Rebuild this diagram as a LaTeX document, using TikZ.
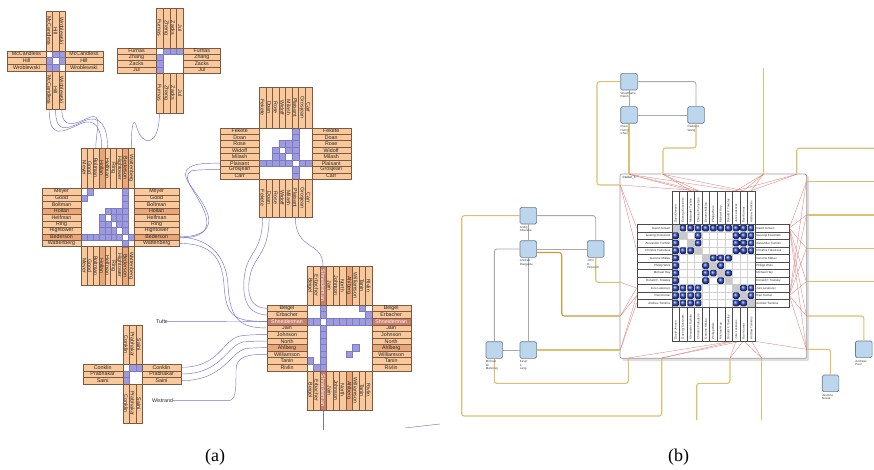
\documentclass[tikz,border=0pt]{standalone}
\usepackage{fontspec}
\setmainfont{Liberation Sans}
\newfontfamily\capfont{Liberation Serif}
\usetikzlibrary{calc}
\definecolor{peach}{HTML}{F9C99B}
\definecolor{peachdk}{HTML}{EBA678}
\definecolor{armline}{HTML}{7A5A44}
\definecolor{cellblue}{HTML}{9D9BDB}
\definecolor{cellbd}{HTML}{7C7AC4}
\definecolor{cConn}{HTML}{7474CF}
\definecolor{hlred}{HTML}{C8806A}
\definecolor{goldl}{HTML}{DCC070}
\definecolor{goldd}{HTML}{C99A38}
\definecolor{cGedge}{HTML}{A9A9A9}
\definecolor{nodefill}{HTML}{BCD6EE}
\definecolor{nodebd}{HTML}{6C7C8E}
\definecolor{redl}{HTML}{E07070}
\definecolor{ballblue}{HTML}{3550CC}
\definecolor{diaggray}{HTML}{C9C9C9}
\newcommand\armfont{\fontsize{5.3}{5.5}\selectfont}
\newcommand\tinyb{\fontsize{3}{3.4}\selectfont}
\tikzset{
 armbox/.style={draw=armline, line width=0.3pt},
 armtxt/.style={font=\armfont, inner sep=0pt, text=black!85},
 bcell/.style={fill=cellblue, draw=cellbd, line width=0.2pt},
 conn/.style={draw=cConn, line width=0.45pt},
 gline/.style={draw=goldl, line width=1.1pt, rounded corners=2.5pt},
 gline2/.style={draw=goldd, line width=1.1pt, rounded corners=2.5pt},
 gedge/.style={draw=cGedge, line width=0.9pt, rounded corners=2.5pt},
 anode/.style={draw=nodebd, fill=nodefill, minimum width=16.6pt, minimum height=16.6pt, inner sep=0pt, rounded corners=1.5pt, line width=0.6pt},
 alabel/.style={font=\tinyb, align=left, inner sep=0pt, anchor=north west, text=black!75},
 rl/.style={draw=redl, line width=0.3pt},
 blab/.style={draw=black!70, line width=0.35pt, fill=white},
 btxt/.style={font=\tinyb, inner sep=0pt, text=black!80},
}
\newcommand\crossgeom[9]{\def\MX{#1}\def\MY{#2}\def\NN{#3}\def\CW{#4}\def\CH{#5}\def\LW{#6}\def\TH{#7}\def\RW{#8}\def\BH{#9}%
  \pgfmathsetmacro\MW{#3*#4}\pgfmathsetmacro\MH{#3*#5}}
\newcommand\armcell[2]{%
  \pgfmathsetmacro\ya{\MY+(#1-1)*\CH}\pgfmathsetmacro\xa{\MX+(#1-1)*\CW}%
  \fill[#2] (\MX-\LW,\ya) rectangle ++(\LW,\CH);
  \fill[#2] (\MX+\MW,\ya) rectangle ++(\RW,\CH);
  \fill[#2] (\xa,\MY-\TH) rectangle ++(\CW,\TH);
  \fill[#2] (\xa,\MY+\MH) rectangle ++(\CW,\BH);}
\newcommand\armlabel[3]{%
  \pgfmathsetmacro\ya{\MY+(#1-1)*\CH}\pgfmathsetmacro\xa{\MX+(#1-1)*\CW}%
  \draw[armbox] (\MX-\LW,\ya) rectangle ++(\LW,\CH);
  \draw[armbox] (\MX+\MW,\ya) rectangle ++(\RW,\CH);
  \draw[armbox] (\xa,\MY-\TH) rectangle ++(\CW,\TH);
  \draw[armbox] (\xa,\MY+\MH) rectangle ++(\CW,\BH);
  \node[armtxt,text=#3] at (\MX-\LW/2,\ya+\CH/2) {#2};
  \node[armtxt,text=#3] at (\MX+\MW+\RW/2,\ya+\CH/2) {#2};
  \node[armtxt,text=#3,rotate=-90] at (\xa+\CW/2,\MY-\TH/2) {#2};
  \node[armtxt,text=#3,rotate=-90] at (\xa+\CW/2,\MY+\MH+\BH/2) {#2};}
\newcommand\drawcross[3]{%
  \foreach \k in {1,...,\NN} {\armcell{\k}{peach}}
  \foreach \k in {#3} {\ifnum\k>0 \armcell{\k}{peachdk}\fi}
  \fill[white] (\MX,\MY) rectangle ++(\MW,\MH);
  \foreach \rr/\cc in {#2} {\fill[bcell] (\MX+\cc*\CW-\CW,\MY+\rr*\CH-\CH) rectangle ++(\CW,\CH);}
  \draw[black!35, line width=0.3pt] (\MX,\MY) rectangle ++(\MW,\MH);
  \foreach \lab [count=\i] in {#1} {\armlabel{\i}{\lab}{black!85}}
}
\begin{document}
\begin{tikzpicture}[x=1pt,y=-1pt]
\useasboundingbox (0,0) rectangle (874,470);
\fill[white] (0,0) rectangle (874,470);

% ---------------- panel (a): connectors ----------------
\node[armtxt] (tufte) at (162,321.7) {Tufte};
\node[armtxt] (wist) at (162.5,400.7) {Wistrand};
\draw[conn] (49.2,109) .. controls (49.2,140) and (62,132) .. (80,124) .. controls (95,117) and (101.7,128) .. (101.7,148);
\draw[conn] (55.5,109) .. controls (55.5,136) and (68,128) .. (84,121) .. controls (100,114) and (107.6,126) .. (107.6,148);
\draw[conn] (61.8,109) .. controls (61.8,130) and (75,124) .. (88,118) .. controls (104,111) and (95.8,130) .. (95.8,148);
\draw[conn] (159.4,113) .. controls (159.4,148) and (142,146) .. (137,128) .. controls (134,117) and (131.3,122) .. (131.3,148);
\draw[conn] (179,236.9) .. controls (200,236.9) and (214,230) .. (207,212) .. controls (198,190) and (176,176) .. (190,167) .. controls (196,163.2) and (208,163.2) .. (220,163.2);
\draw[conn] (179,237.9) .. controls (202,237.9) and (211,231) .. (205,213) .. controls (197,192) and (180,178) .. (191,171) .. controls (197,169.6) and (208,169.6) .. (220,169.6);
\draw[conn] (179,243.4) .. controls (205,243.4) and (222,252) .. (224,285) .. controls (226,318) and (235,321.4) .. (267.3,321.4);
\draw[conn] (179,236.9) .. controls (208,238) and (226,254) .. (228,285) .. controls (230,320) and (240,328) .. (267.3,328);
\draw[conn] (tufte.east) -- (267.3,321.4);
\draw[conn] (181.1,367.3) .. controls (220,367.3) and (222,340) .. (240,336) .. controls (250,334.6) and (258,334.6) .. (267.3,334.6);
\draw[conn] (181.1,374) .. controls (222,374) and (226,346) .. (243,342) .. controls (252,341.1) and (259,341.1) .. (267.3,341.1);
\draw[conn] (181.1,380.7) .. controls (224,380.7) and (230,352) .. (246,348.5) .. controls (254,347.7) and (260,347.7) .. (267.3,347.7);
\draw[conn] (wist.east) -- (228,400.7) .. controls (236,400.7) and (236,390) .. (236,370) .. controls (236,356) and (248,354.3) .. (267.3,354.3);
\draw[conn] (262.6,216.7) .. controls (262.6,255) and (246,250) .. (244,280) .. controls (242,305) and (252,314.9) .. (267.3,314.9);
\draw[conn] (269.1,216.7) .. controls (269.1,258) and (252,254) .. (249,282) .. controls (247,302) and (256,308.3) .. (267.3,308.3);
\draw[conn] (295.3,216.7) .. controls (295.3,252) and (323,240) .. (323,266);
\draw[conn] (323,410) -- (323,430);
\coordinate (s1) at (405,428); \coordinate (s2) at (440,424);
\draw[conn] (s1) -- (s2);

% ---------------- panel (a): matrices ----------------
\crossgeom{46}{50.7}{3}{6.33}{6.67}{39}{39.7}{38}{38.3}
\drawcross{McCandless,Hill,Wroblewski}{1/2,1/3,2/1,2/3,3/1,3/2}{0}
\crossgeom{156}{48}{4}{6.83}{6.25}{39}{40}{37}{40}
\drawcross{Furnas,Zhang,Zacks,Jul}{1/2,1/3,1/4,2/1,3/1,4/1}{0}
\crossgeom{81}{188.3}{9}{5.92}{6.48}{39}{40.3}{44.7}{38.3}
\drawcross{Meyer,Good,Boltman,Hollan,Helfman,Ring,Hightower,Bederson,Wattenberg}
 {1/2,2/1,4/5,5/4,4/6,6/4,4/7,7/4,5/6,6/5,5/7,7/5,6/7,7/6,8/1,8/2,8/3,8/4,8/5,8/6,8/7,8/9,1/8,2/8,3/8,4/8,5/8,6/8,7/8,9/8}{4,8}
\crossgeom{259.3}{127.7}{8}{6.55}{6.45}{39.3}{40.4}{39}{37.4}
\drawcross{Fekete,Doan,Rose,Widoff,Milash,Plaisant,Grosjean,Carr}
 {6/1,6/2,6/3,6/4,6/5,6/7,6/8,1/6,2/6,3/6,4/6,5/6,7/6,8/6,3/4,4/3,3/5,5/3,4/5,5/4}{0}
\crossgeom{306.7}{305}{10}{6.5}{6.57}{39.4}{39}{39}{39.3}
\drawcross{Beigel,Erbacher,Shneiderman,Jain,Johnson,North,Ahlberg,Williamson,Tanin,Rivlin}
 {3/1,3/2,3/4,3/5,3/6,3/7,3/8,3/9,3/10,1/3,2/3,4/3,5/3,6/3,7/3,8/3,9/3,10/3,1/9,9/1,2/10,10/2,7/8,8/7}{7}
\armcell{3}{hlred}
\armlabel{3}{Shneiderman}{white}
\crossgeom{122.7}{364}{3}{6.53}{6.67}{40}{39}{38.4}{39}
\drawcross{Conklin,Prabhakar,Saini}{1/2,2/1,1/3,3/1}{0}

% ---------------- panel (b) ----------------
\node[anode] (W) at (629,81.7) {};
\node[anode] (C) at (629,115) {};
\node[anode] (G) at (696,115) {};
\node[anode] (A) at (528.3,215.7) {};
\node[anode] (D) at (528.3,249) {};
\node[anode] (H) at (595.7,249) {};
\node[anode] (M) at (494.3,350) {};
\node[anode] (L) at (528.3,350) {};
\node[anode] (P) at (863.8,349.3) {};
\node[anode] (J) at (830.5,383.3) {};
\fill[black!13, rounded corners=2pt] (622,176) rectangle (809.2,361);
\node[draw=black!40, fill=white, rounded corners=2pt, minimum width=186.7pt, minimum height=184.3pt, inner sep=0pt, line width=0.7pt] (box) at (713.35,266.15) {};
\node[font=\tinyb, anchor=north west, inner sep=0pt] (cl) at (622.5,176.5) {Cluster\_3};

% gray edges
\draw[gedge] (W.south) -- (C.north);
\draw[gedge] (W.east) -| (G.north);
\draw[gedge] (C.east) -- (G.west);
\draw[gedge] (A.east) -| (H.north);
\draw[gedge] (A.south) -- (D.north);
\draw[gedge] (D.west) -| (M.north);
\draw[gedge] (D.east) -- (H.west);
\draw[gedge] (D.south) -- (L.north);
\draw[gedge] (M.east) -- (L.west);
% gold edges
\coordinate (wl) at (597,185);
\draw[gline] (W.west) -| (wl) -- (wl -| box.west);
\draw[gline] (C.south) -- (C.south |- box.north);
\coordinate (g1) at (663,148);
\draw[gline] (G.south) |- (g1) -- (g1 |- box.north);
\coordinate (a1) at (461.7,416); \coordinate (a2) at (661.7,416);
\draw[gline] (A.west) -| (a1) -- (a2) -- (a2 |- box.south);
\coordinate (m1) at (628.3,383.3);
\draw[gline] (M.south) |- (m1) -- (m1 |- box.south);
\draw[gline] (L.east) -- (L.east -| box.west);
\coordinate (d1) at (561.7,316);
\draw[gline2] ([yshift=-3.5pt]D.east) -| (d1) -- (d1 -| box.west);
\coordinate (h1) at (620,282.3);
\draw[gline] (H.south) |- (h1);
\coordinate (t1) at (763.3,68);
\draw[gline] (t1) -- (t1 |- box.north);
\coordinate (t2a) at (796.7,148.3); \coordinate (t2) at (874,148.3);
\draw[gline] (t2a |- box.north) -- (t2a) -- (t2);
\foreach \yy [count=\i] in {181.7,215,248.3,281.7} {\coordinate (re\i) at (874,\yy); \draw[gline] (box.east |- re\i) -- (re\i);}
\coordinate (p1) at (863.8,316);
\draw[gline] (box.east |- p1) -| (P.north);
\coordinate (j1) at (830,349.3);
\draw[gline] (box.east |- j1) -| (J.north);
\coordinate (b0) at (730,383.3); \coordinate (b2) at (696.7,420);
\draw[gline] (b0 |- box.south) -- (b0) -| (b2);
\coordinate (b3) at (761.7,420);
\draw[gline] (b3 |- box.south) -- (b3);

% node labels
\node[alabel] at ([yshift=-1.8pt]W.south west) {Woodhams\\Rareh};
\node[alabel] at ([yshift=-1.8pt]C.south west) {Duen\\Horng\\Chau};
\node[alabel] at ([yshift=-1.8pt]G.south west) {Radcust\\Wang};
\node[alabel] at ([yshift=-1.8pt]A.south west) {Andig\\Altavana};
\node[alabel] at ([yshift=-1.8pt]D.south west) {Anirban\\Dasgupta};
\node[alabel] at ([yshift=-1.8pt]H.south west) {John\\E.\\Hopcroft};
\node[alabel] at ([yshift=-1.8pt]M.south west) {Michael\\W.\\Mahoney};
\node[alabel] at ([yshift=-1.8pt]L.south west) {Kevin\\J.\\Lang};
\node[alabel] at ([yshift=-1.8pt]P.south west) {Andreas\\Paul};
\node[alabel] at ([yshift=-1.8pt]J.south west) {Jasmine\\Novak};

% red lines inside cluster
\draw[rl] (629,174.3) -- (690.6,190.7); \draw[rl] (629,174.3) -- (698.2,190.7);
\draw[rl] (663,174.3) -- (690.6,190.7); \draw[rl] (663,174.3) -- (698.2,190.7);
\draw[rl] (629,174.3) -- (736.1,190.7); \draw[rl] (663,174.3) -- (743.6,190.7);
\draw[rl] (763.3,174.3) -- (736.1,190.7); \draw[rl] (763.3,174.3) -- (743.6,190.7); \draw[rl] (763.3,174.3) -- (751.2,190.7);
\draw[rl] (796.7,174.3) -- (736.1,190.7); \draw[rl] (796.7,174.3) -- (751.2,190.7);
\draw[rl] (620.3,185) -- (698.2,190.7); \draw[rl] (620.3,185) -- (636.7,250.6); \draw[rl] (620.3,185) -- (636.7,228);
\draw[rl] (620.3,282.3) -- (636.7,288); \draw[rl] (620.3,316) -- (636.7,288);
\draw[rl] (620.3,316) -- (636.7,295.5); \draw[rl] (620.3,350) -- (636.7,295.5); \draw[rl] (620.3,350) -- (636.7,303);
\foreach \yy in {181.7,215,248.3,281.7,316,349.3} {\draw[rl] (806.4,\yy) -- (789.3,228); \draw[rl] (806.4,\yy) -- (789.3,295.5);}
\draw[rl] (628.3,358) -- (736.1,340.7); \draw[rl] (661.7,358) -- (736.1,340.7); \draw[rl] (661.7,358) -- (743.6,340.7);
\draw[rl] (730,358) -- (743.6,340.7); \draw[rl] (730,358) -- (736.1,340.7);
\draw[rl] (761.7,358) -- (743.6,340.7); \draw[rl] (761.7,358) -- (751.2,340.7); \draw[rl] (806.4,349.3) -- (751.2,340.7);

% matrix (b)
\fill[white] (671.7,224.3) rectangle (755,306.8);
\foreach \i in {1,...,10} {\draw[black!18, line width=0.25pt] (671.7+\i*7.57,224.3) -- ++(0,82.5); \draw[black!18, line width=0.25pt] (671.7,224.3+\i*7.5) -- ++(83.3,0);}
\foreach \i in {1,...,11} {\fill[diaggray] (671.7+\i*7.57-7.57,224.3+\i*7.5-7.5) rectangle ++(7.57,7.5);}
\foreach \rr/\cc in {1/2,1/3,1/4,1/5,1/6,1/7,1/8,1/9,1/10,1/11,2/4,3/4,2/9,2/10,2/11,3/9,3/10,3/11,4/9,4/10,4/11,5/6,5/7,5/8,6/7,7/8,9/10,9/11,10/11} {
  \shade[ball color=ballblue, rounded corners=1.3pt] (671.7+\cc*7.57-7.07,224.3+\rr*7.5-7) rectangle ++(6.57,6.5);
  \shade[ball color=ballblue, rounded corners=1.3pt] (671.7+\rr*7.57-7.07,224.3+\cc*7.5-7) rectangle ++(6.57,6.5);
}
\draw[black!50, line width=0.3pt] (671.7,224.3) rectangle (755,306.8);
\foreach \lab [count=\i] in {David Jensen,Gueorgi Kossinets,Alexander Tuzhilin,Christos Faloutsos,Gerome Miklau,Philipp Weis,Michael Hay,Donald F. Towsley,Jure Leskovec,Ravi Kumar,Andrew Tomkins} {
  \pgfmathsetmacro\yy{224.3+(\i-1)*7.5}
  \pgfmathsetmacro\xx{671.7+(\i-1)*7.57}
  \draw[blab] (636.7,\yy) rectangle ++(35,7.5);
  \draw[blab] (755,\yy) rectangle ++(34.3,7.5);
  \draw[blab] (\xx,190.7) rectangle ++(7.57,33.6);
  \draw[blab] (\xx,306.8) rectangle ++(7.57,33.9);
  \node[btxt,anchor=east] at (670.5,\yy+3.75) {\lab};
  \node[btxt,anchor=west] at (756.2,\yy+3.75) {\lab};
  \node[btxt,rotate=90,anchor=west] at (\xx+3.785,223.1) {\lab};
  \node[btxt,rotate=90,anchor=west] at (\xx+3.785,339.5) {\lab};
}

% captions
\node[font=\capfont\fontsize{18}{20}\selectfont, inner sep=0pt] (capa) at (215,457) {(a)};
\node[font=\capfont\fontsize{18}{20}\selectfont, inner sep=0pt] (capb) at (678.5,457) {(b)};
\end{tikzpicture}
\end{document}
